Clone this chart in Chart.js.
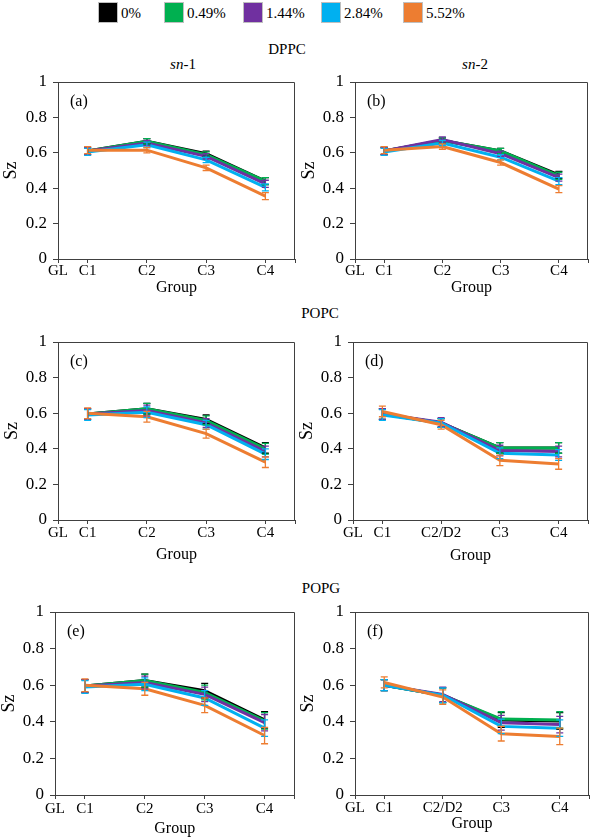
<!DOCTYPE html>
<html lang="en">
<head>
  <meta charset="UTF-8">
  <title>Sz order parameter by group</title>
  <script src="https://cdn.jsdelivr.net/npm/chart.js"></script>
  <style>
    body { margin: 0; background: #fff; font-family: 'Liberation Serif', 'Times New Roman', serif; }
    #page { position: relative; width: 591px; height: 839px; overflow: hidden; }
    .lbl { position: absolute; font-size: 15px; line-height: 1; white-space: nowrap; transform: translate(-50%, -50%); color: #000; }
    .key { position: absolute; top: 2px; width: 18px; height: 19px; border: 1px solid #bfbfbf; }
    .keytxt { position: absolute; top: 6px; font-size: 15px; line-height: 1; }
    canvas { position: absolute; }
  </style>
</head>
<body>
  <div id="page">
    <div class="lbl" style="left:287px; top:49px;">DPPC</div>
    <div class="lbl" style="left:183px; top:64px;"><i>sn</i>-1</div>
    <div class="lbl" style="left:475px; top:64px;"><i>sn</i>-2</div>
    <div class="lbl" style="left:320px; top:313px;">POPC</div>
    <div class="lbl" style="left:321px; top:588px;">POPG</div>
  </div>

  <script>
    const series = ['0%', '0.49%', '1.44%', '2.84%', '5.52%'];
    const colors = ['#000000', '#00B050', '#7030A0', '#00B0F0', '#ED7D31'];
    const groupsC = ['C1', 'C2', 'C3', 'C4'];
    const groupsD = ['C1', 'C2/D2', 'C3', 'C4'];

    // Sz values, one row per concentration (0%, 0.49%, 1.44%, 2.84%, 5.52%)
    const dppcSn1 = [
      [0.61, 0.665, 0.595, 0.44],
      [0.61, 0.665, 0.59, 0.44],
      [0.61, 0.655, 0.58, 0.425],
      [0.605, 0.645, 0.56, 0.405],
      [0.615, 0.615, 0.515, 0.355]
    ];
    const dppcSn1Err = [0.02, 0.015, 0.015, 0.02];

    const dppcSn2 = [
      [0.61, 0.67, 0.61, 0.475],
      [0.61, 0.67, 0.61, 0.47],
      [0.61, 0.675, 0.595, 0.46],
      [0.605, 0.655, 0.575, 0.44],
      [0.615, 0.635, 0.545, 0.395]
    ];
    const dppcSn2Err = [0.02, 0.015, 0.015, 0.02];

    const popcSn1 = [
      [0.595, 0.625, 0.565, 0.405],
      [0.595, 0.625, 0.56, 0.40],
      [0.595, 0.615, 0.545, 0.385],
      [0.59, 0.605, 0.535, 0.37],
      [0.60, 0.58, 0.485, 0.325]
    ];
    const popcSn1Err = [0.03, 0.03, 0.025, 0.03];

    const popcSn2 = [
      [0.595, 0.545, 0.405, 0.405],
      [0.595, 0.545, 0.405, 0.405],
      [0.595, 0.55, 0.39, 0.385],
      [0.59, 0.545, 0.375, 0.365],
      [0.61, 0.535, 0.335, 0.315]
    ];
    const popcSn2Err = [0.03, 0.025, 0.03, 0.03];

    const popgSn1 = [
      [0.595, 0.625, 0.57, 0.41],
      [0.595, 0.625, 0.56, 0.405],
      [0.595, 0.615, 0.55, 0.395],
      [0.59, 0.605, 0.53, 0.365],
      [0.60, 0.58, 0.49, 0.325]
    ];
    const popgSn1Err = [0.035, 0.035, 0.04, 0.045];

    const popgSn2 = [
      [0.60, 0.545, 0.41, 0.405],
      [0.60, 0.545, 0.415, 0.41],
      [0.60, 0.55, 0.395, 0.385],
      [0.60, 0.545, 0.375, 0.365],
      [0.615, 0.535, 0.335, 0.32]
    ];
    const popgSn2Err = [0.03, 0.04, 0.04, 0.045];

    const yTicks = [0, 0.2, 0.4, 0.6, 0.8, 1];

    const family = "'Liberation Serif', 'Times New Roman', serif";
    const page = document.getElementById('page');

    // legend
    const keyX = [98, 164, 243, 321, 403];
    series.forEach((s, k) => {
      const box = document.createElement('div');
      box.className = 'key';
      box.style.left = keyX[k] + 'px';
      box.style.background = colors[k];
      page.appendChild(box);
      const t = document.createElement('div');
      t.className = 'keytxt';
      t.style.left = (keyX[k] + 23) + 'px';
      t.textContent = s;
      page.appendChild(t);
    });

    // box = canvas [left, top, width, height], plot = [left, top, right, bottom] in page px
    const panels = [
      { tag: '(a)', data: dppcSn1, err: dppcSn1Err, groups: groupsC, box: [0, 60, 297, 236], plot: [58, 82, 295, 259], szPad: 2, tickPad: 1 },
      { tag: '(b)', data: dppcSn2, err: dppcSn2Err, groups: groupsC, box: [297, 60, 294, 236], plot: [355, 82, 588, 259], szPad: 3, tickPad: 1 },
      { tag: '(c)', data: popcSn1, err: popcSn1Err, groups: groupsC, box: [0, 320, 297, 243], plot: [58, 342, 295, 520], szPad: 3, tickPad: 1.5 },
      { tag: '(d)', data: popcSn2, err: popcSn2Err, groups: groupsD, box: [297, 320, 294, 244], plot: [353, 342, 588, 520], szPad: 1, tickPad: 1.5 },
      { tag: '(e)', data: popgSn1, err: popgSn1Err, groups: groupsC, box: [0, 590, 297, 247], plot: [55, 612, 295, 795], szPad: 0, tickPad: 2.5 },
      { tag: '(f)', data: popgSn2, err: popgSn2Err, groups: groupsD, box: [297, 590, 294, 242], plot: [355, 612, 590, 795], szPad: 2, tickPad: 2 }
    ];

    const framePlugin = {
      id: 'frame',
      beforeDatasetsDraw(chart) {
        const { ctx, chartArea: a } = chart;
        ctx.save();
        ctx.strokeStyle = '#404040';
        ctx.lineWidth = 1;
        ctx.beginPath();
        ctx.moveTo(Math.round(a.left), Math.round(a.top) + 0.5);
        ctx.lineTo(Math.round(a.right) - 0.5, Math.round(a.top) + 0.5);
        ctx.lineTo(Math.round(a.right) - 0.5, Math.round(a.bottom));
        ctx.stroke();
        ctx.restore();
      }
    };

    const errorBarPlugin = {
      id: 'errorBars',
      afterDatasetsDraw(chart) {
        const { ctx } = chart;
        const ys = chart.scales.y;
        ctx.save();
        chart.data.datasets.forEach((ds, k) => {
          const meta = chart.getDatasetMeta(k);
          ctx.strokeStyle = ds.borderColor;
          ctx.lineWidth = 1.3;
          meta.data.forEach((pt, i) => {
            const v = ds.data[i].y, e = ds.errors[i];
            const y1 = ys.getPixelForValue(v - e), y2 = ys.getPixelForValue(v + e);
            ctx.beginPath();
            ctx.moveTo(pt.x, y1); ctx.lineTo(pt.x, y2);
            ctx.moveTo(pt.x - 3.5, y1); ctx.lineTo(pt.x + 3.5, y1);
            ctx.moveTo(pt.x - 3.5, y2); ctx.lineTo(pt.x + 3.5, y2);
            ctx.stroke();
          });
        });
        ctx.restore();
      }
    };

    const tagPlugin = {
      id: 'tag',
      afterDraw(chart) {
        const { ctx, chartArea: a } = chart;
        ctx.save();
        ctx.fillStyle = '#000';
        ctx.font = '16px ' + family;
        ctx.textBaseline = 'middle';
        ctx.fillText(chart.options.plugins.tag.text, a.left + 12, a.top + 20);
        ctx.restore();
      }
    };

    function makeChart(p) {
      const [bx, by, bw, bh] = p.box;
      const [l, t, r, b] = p.plot;
      const cv = document.createElement('canvas');
      cv.width = bw;
      cv.height = bh;
      cv.style.left = bx + 'px';
      cv.style.top = by + 'px';
      page.appendChild(cv);
      const xLabels = ['GL'].concat(p.groups, ['']);
      const xPos = [-0.5, 0, 1, 2, 3, 3.5];

      new Chart(cv, {
        type: 'line',
        data: {
          datasets: p.data.map((vals, k) => ({
            label: series[k],
            data: vals.map((v, i) => ({ x: i, y: v })),
            errors: p.err,
            borderColor: colors[k],
            backgroundColor: colors[k],
            borderWidth: 3,
            pointRadius: 0,
            tension: 0,
            order: series.length - k
          }))
        },
        options: {
          responsive: false,
          animation: false,
          devicePixelRatio: 1,
          layout: { padding: { left: 0, top: t - by, right: bx + bw - r, bottom: 0 } },
          plugins: {
            legend: { display: false },
            tooltip: { enabled: false },
            tag: { text: p.tag }
          },
          scales: {
            x: {
              type: 'linear',
              min: -0.5,
              max: 3.5,
              afterBuildTicks: s => { s.ticks = xPos.map(v => ({ value: v })); },
              afterFit: s => { s.height = by + bh - b; },
              ticks: {
                callback: (v, i) => xLabels[i],
                color: '#000',
                font: { family, size: 15, lineHeight: 1 },
                padding: p.tickPad,
                autoSkip: false,
                maxRotation: 0
              },
              grid: { drawOnChartArea: false, drawTicks: true, tickLength: 4, color: '#404040' },
              border: { color: '#404040', width: 1 },
              title: { display: true, text: 'Group', color: '#000', font: { family, size: 16, lineHeight: 1 }, padding: 0 }
            },
            y: {
              min: 0,
              max: 1,
              afterBuildTicks: s => { s.ticks = yTicks.map(v => ({ value: v })); },
              afterFit: s => { s.width = l - bx; },
              ticks: {
                callback: v => String(Math.round(v * 10) / 10),
                color: '#000',
                font: { family, size: 17, lineHeight: 1 },
                padding: 6
              },
              grid: { drawOnChartArea: false, drawTicks: true, tickLength: 5, color: '#404040' },
              border: { color: '#404040', width: 1 },
              title: { display: true, text: 'Sz', color: '#000', font: { family, size: 18, lineHeight: 1 }, padding: { top: p.szPad, bottom: 0 } }
            }
          }
        },
        plugins: [framePlugin, errorBarPlugin, tagPlugin]
      });
    }

    panels.forEach(makeChart);
  </script>
</body>
</html>
